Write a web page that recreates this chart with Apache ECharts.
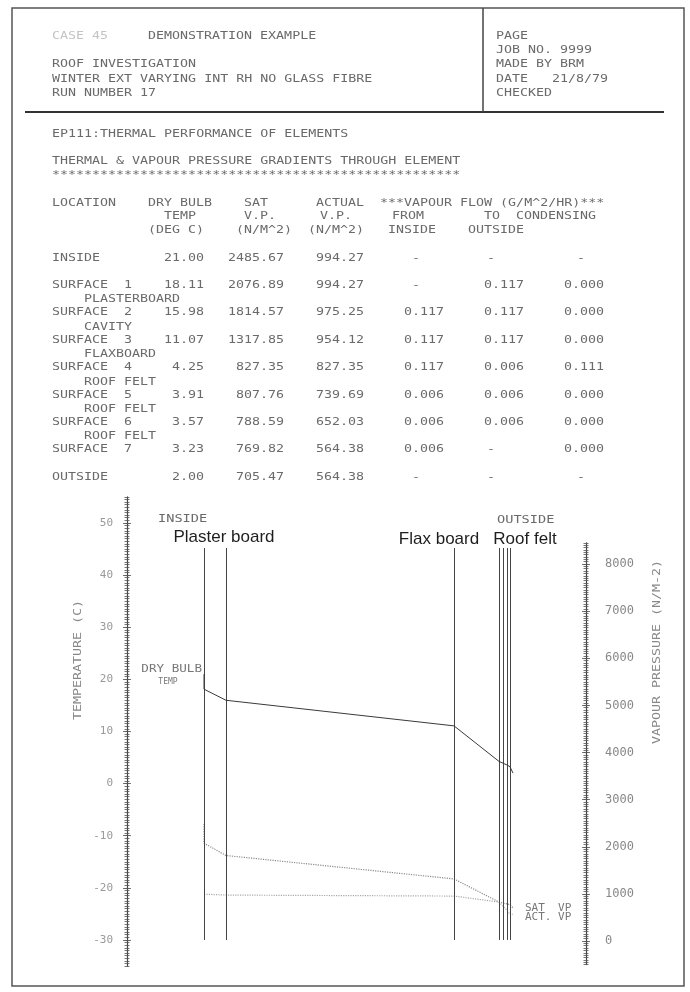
<!DOCTYPE html>
<html><head><meta charset="utf-8">
<script src="https://cdn.jsdelivr.net/npm/echarts@6/dist/echarts.min.js"></script>
<style>html,body{margin:0;padding:0;background:#fff}#c{width:690px;height:992px}</style>
</head><body><div id="c"></div>
<script>
// ---------- data ----------
const locations = ['INSIDE','SURFACE  1','SURFACE  2','SURFACE  3','SURFACE  4','SURFACE  5','SURFACE  6','SURFACE  7','OUTSIDE'];
const layers = ['PLASTERBOARD','CAVITY','FLAXBOARD','ROOF FELT','ROOF FELT','ROOF FELT'];
const dryBulb = [21.00, 18.11, 15.98, 11.07, 4.25, 3.91, 3.57, 3.23, 2.00];
const satVP = [2485.67, 2076.89, 1814.57, 1317.85, 827.35, 807.76, 788.59, 769.82, 705.47];
const actVP = [994.27, 994.27, 975.25, 954.12, 827.35, 739.69, 652.03, 564.38, 564.38];
const flowFrom = [null, null, 0.117, 0.117, 0.117, 0.006, 0.006, 0.006, null];
const flowTo = [null, 0.117, 0.117, 0.117, 0.006, 0.006, 0.006, null, null];
const condensing = [null, 0.000, 0.000, 0.000, 0.111, 0.000, 0.000, 0.000, null];
// position of each location across the element (inside air drawn at surface 1)
const position = [0, 0, 22, 250, 295, 299, 303, 306, 309];
const boundaryIdx = [1, 2, 3, 4, 5, 6, 7];
const tempTicks = [-30, -20, -10, 0, 10, 20, 30, 40, 50];
const vpTicks = [0, 1000, 2000, 3000, 4000, 5000, 6000, 7000, 8000];

// ---------- helpers ----------
const MONO = "'DejaVu Sans Mono', monospace";
const INK = '#6a6a6a';
function txt(x, y, s, o) {
  o = o || {};
  const al = o.align || 'left';
  return { type: 'text', x: x, y: y, scaleX: o.sx || 1.33, silent: true, z: 10,
    style: { text: s, font: (o.size || 10) + 'px ' + (o.family || MONO), fill: o.fill || INK,
      textAlign: al, align: al, textVerticalAlign: 'middle', verticalAlign: 'middle' } };
}
const minorT = []; for (let v = -35; v <= 55; v += 0.5) minorT.push(v);
const minorV = []; for (let v = -500; v <= 8450; v += 50) minorV.push(v);

// ---------- page texts ----------
const g = [];
g.push({ type: 'rect', shape: { x: 12, y: 8, width: 672, height: 978 }, style: { fill: 'none', stroke: '#555', lineWidth: 1.5 } });
g.push({ type: 'line', shape: { x1: 25, y1: 112, x2: 664, y2: 112 }, style: { stroke: '#333', lineWidth: 2 } });
g.push({ type: 'line', shape: { x1: 483, y1: 8, x2: 483, y2: 112 }, style: { stroke: '#444', lineWidth: 1.5 } });
g.push(txt(52, 36, 'CASE 45', { fill: '#c4c4c4' }));
g.push(txt(148, 36, 'DEMONSTRATION EXAMPLE'));
g.push(txt(52, 64, 'ROOF INVESTIGATION'));
g.push(txt(52, 79, 'WINTER EXT VARYING INT RH NO GLASS FIBRE'));
g.push(txt(52, 93, 'RUN NUMBER 17'));
g.push(txt(496, 36, 'PAGE'));
g.push(txt(496, 50, 'JOB NO. 9999'));
g.push(txt(496, 64, 'MADE BY BRM'));
g.push(txt(496, 79, 'DATE   21/8/79'));
g.push(txt(496, 93, 'CHECKED'));
g.push(txt(52, 134, 'EP111:THERMAL PERFORMANCE OF ELEMENTS'));
g.push(txt(52, 161, 'THERMAL & VAPOUR PRESSURE GRADIENTS THROUGH ELEMENT'));
g.push(txt(52, 175, '*'.repeat(51)));
// table header
const H0 = 203.2, P = 13.7;
g.push(txt(52, H0, 'LOCATION'));
g.push(txt(148, H0, 'DRY BULB'));
g.push(txt(244, H0, 'SAT'));
g.push(txt(316, H0, 'ACTUAL'));
g.push(txt(380, H0, '***VAPOUR FLOW (G/M^2/HR)***'));
g.push(txt(164, H0 + P, 'TEMP'));
g.push(txt(244, H0 + P, 'V.P.'));
g.push(txt(320, H0 + P, 'V.P.'));
g.push(txt(392, H0 + P, 'FROM'));
g.push(txt(484, H0 + P, 'TO'));
g.push(txt(516, H0 + P, 'CONDENSING'));
g.push(txt(148, H0 + 2 * P, '(DEG C)'));
g.push(txt(236, H0 + 2 * P, '(N/M^2)'));
g.push(txt(308, H0 + 2 * P, '(N/M^2)'));
g.push(txt(388, H0 + 2 * P, 'INSIDE'));
g.push(txt(468, H0 + 2 * P, 'OUTSIDE'));
// table rows
const rowY = locations.map((_, i) => 258 + P * 2 * i);
const colRight = [204, 284, 364, 444, 524, 604];
const dashX = [416, 491, 581];
locations.forEach((loc, i) => {
  const y = rowY[i];
  g.push(txt(52, y, loc));
  g.push(txt(colRight[0], y, dryBulb[i].toFixed(2), { align: 'right' }));
  g.push(txt(colRight[1], y, satVP[i].toFixed(2), { align: 'right' }));
  g.push(txt(colRight[2], y, actVP[i].toFixed(2), { align: 'right' }));
  [flowFrom, flowTo, condensing].forEach((arr, k) => {
    if (arr[i] === null) g.push(txt(dashX[k], y, '-', { align: 'center' }));
    else g.push(txt(colRight[3 + k], y, arr[i].toFixed(3), { align: 'right' }));
  });
  if (i >= 1 && i <= layers.length) g.push(txt(84, y + 14.5, layers[i - 1]));
});
// chart annotations
g.push(txt(158, 519, 'INSIDE', { sx: 1.36 }));
g.push(txt(497, 520, 'OUTSIDE', { sx: 1.36 }));
const SANS = "'Liberation Sans', Arial, sans-serif";
function big(x, y, s) {
  return { type: 'text', x: x, y: y, silent: true, z: 10, style: { text: s, font: '17px ' + SANS, fill: '#1e1e1e',
    textAlign: 'center', align: 'center', textVerticalAlign: 'middle', verticalAlign: 'middle' } };
}
g.push(big(224, 537, 'Plaster board'));
g.push(big(439, 539, 'Flax board'));
g.push(big(525, 539, 'Roof felt'));
g.push(txt(202, 669, 'DRY BULB', { align: 'right', sx: 1.26, fill: '#777' }));
g.push(txt(168, 682, 'TEMP', { align: 'center', size: 8, sx: 1.0, fill: '#777' }));
g.push(Object.assign(txt(78, 660, 'TEMPERATURE (C)', { align: 'center', fill: '#888' }), { rotation: Math.PI / 2 }));
g.push(Object.assign(txt(657, 652, 'VAPOUR PRESSURE (N/M-2)', { align: 'center', fill: '#888' }), { rotation: Math.PI / 2 }));

// ---------- chart ----------
const chart = echarts.init(document.getElementById('c'), null, { renderer: 'canvas' });
const xAx = gi => ({ gridIndex: gi, type: 'value', min: -77, max: 382, show: false });
const axBase = (gi, pos, mn, mx) => ({ gridIndex: gi, type: 'value', position: pos, min: mn, max: mx, splitLine: { show: false } });
const tickAx = (gi, pos, mn, mx, vals, len, off) => Object.assign(axBase(gi, pos, mn, mx), {
  offset: off, axisLine: { show: false, onZero: false }, axisLabel: { show: false },
  axisTick: { show: true, inside: false, length: len, customValues: vals, lineStyle: { color: '#555', width: 0.8 } } });

chart.setOption({
  animation: false,
  backgroundColor: '#fff',
  grid: [
    { left: 127, width: 459, top: 496.9, height: 469.1 },
    { left: 127, width: 459, top: 542.8, height: 421.8 }
  ],
  xAxis: [xAx(0), xAx(1)],
  yAxis: [
    Object.assign(axBase(0, 'left', -35, 55), {
      axisLine: { show: true, onZero: false, lineStyle: { color: '#444', width: 1.2 } }, axisTick: { show: false },
      axisLabel: { customValues: tempTicks, margin: 14, color: '#999', fontFamily: MONO, fontSize: 11, formatter: v => String(v) } }),
    tickAx(0, 'left', -35, 55, minorT, 5, -2.5),
    tickAx(0, 'left', -35, 55, tempTicks, 8, -4),
    Object.assign(axBase(1, 'right', -500, 8450), {
      axisLine: { show: true, onZero: false, lineStyle: { color: '#444', width: 1.2 } }, axisTick: { show: false },
      axisLabel: { customValues: vpTicks, margin: 19, color: '#888', fontFamily: MONO, fontSize: 12, formatter: v => String(v) } }),
    tickAx(1, 'right', -500, 8450, minorV, 5, -2.5),
    tickAx(1, 'right', -500, 8450, vpTicks, 8, -4)
  ],
  series: [
    { type: 'line', name: 'DRY BULB TEMP', xAxisIndex: 0, yAxisIndex: 0, symbol: 'none', z: 5,
      data: position.map((x, i) => [x, dryBulb[i]]), lineStyle: { color: '#3a3a3a', width: 1 },
      markLine: { symbol: 'none', silent: true, label: { show: false }, animation: false,
        lineStyle: { color: '#444', width: 1, type: 'solid' },
        data: boundaryIdx.map(i => [{ coord: [position[i], -30] }, { coord: [position[i], 45.2] }]) } },
    { type: 'line', name: 'SAT VP', xAxisIndex: 1, yAxisIndex: 3, symbol: 'none',
      data: position.map((x, i) => [x, satVP[i]]), lineStyle: { color: '#8a8a8a', width: 1.2, type: 'dotted' },
      endLabel: { show: true, formatter: 'SAT  VP', distance: 12, fontFamily: MONO, fontSize: 11, color: '#777' } },
    { type: 'line', name: 'ACT VP', xAxisIndex: 1, yAxisIndex: 3, symbol: 'none',
      data: position.map((x, i) => [x, actVP[i]]), lineStyle: { color: '#a8a8a8', width: 1.2, type: 'dotted' },
      endLabel: { show: true, formatter: 'ACT. VP', distance: 12, offset: [0, 3], fontFamily: MONO, fontSize: 11, color: '#777' } }
  ],
  graphic: g
});
</script></body></html>
